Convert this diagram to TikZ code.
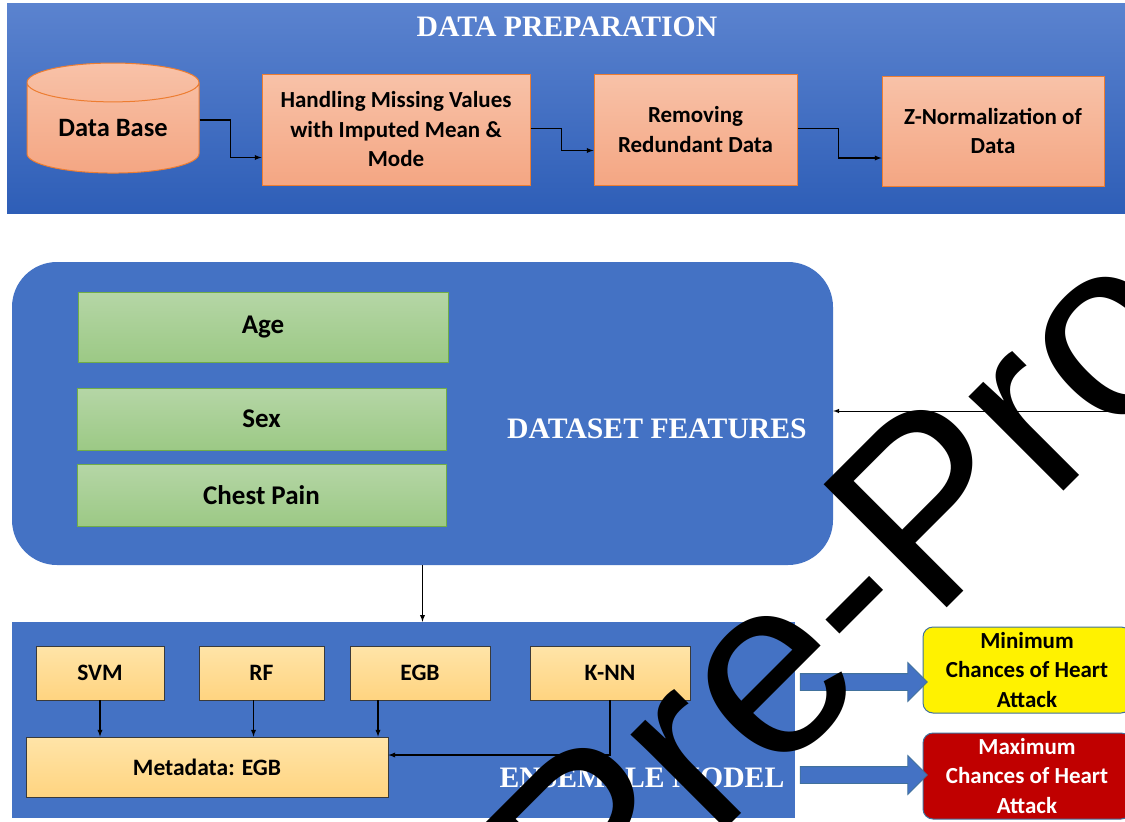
\documentclass[tikz,border=0pt]{standalone}
\usepackage{fontspec}
\usepackage{xcolor}
\usetikzlibrary{arrows}
\usetikzlibrary{positioning,shapes.geometric,shapes.arrows}

\newfontfamily\boxfont{Carlito}
\newfontfamily\headfont{Liberation Serif}
\newfontfamily\markfont{Liberation Sans}

\definecolor{panelblue}{HTML}{4472C4}
\definecolor{preptop}{HTML}{5B83CF}
\definecolor{prepbot}{HTML}{2E5EB7}
\definecolor{salmontop}{HTML}{F8C2A8}
\definecolor{salmonbot}{HTML}{F4A683}
\definecolor{salmonline}{HTML}{ED7D31}
\definecolor{greentop}{HTML}{B5D6A6}
\definecolor{greenbot}{HTML}{9CC985}
\definecolor{greenline}{HTML}{70AD47}
\definecolor{goldtop}{HTML}{FFE4A8}
\definecolor{goldbot}{HTML}{FFD480}
\definecolor{goldline}{HTML}{3A3A3A}
\definecolor{outline}{HTML}{41719C}
\definecolor{darkred}{HTML}{C00000}

\begin{document}
\begin{tikzpicture}[x=1pt,y=-1pt,>=latex,
    conn/.style={->,line width=1.3pt},
    headtext/.style={text=white,inner sep=0pt,font=\headfont\bfseries\fontsize{29.7}{33}\selectfont},
    salmonbox/.style={draw=salmonline,line width=1pt,top color=salmontop,bottom color=salmonbot,
      align=center,inner sep=0pt,font=\boxfont\bfseries\fontsize{23}{29.5}\selectfont},
    greenbox/.style={draw=greenline,line width=1pt,top color=greentop,bottom color=greenbot,
      minimum width=369pt,inner sep=0pt,font=\boxfont\bfseries\fontsize{27}{30}\selectfont},
    goldbox/.style={draw=goldline,line width=0.8pt,top color=goldtop,bottom color=goldbot,
      inner sep=0pt,font=\boxfont\bfseries\fontsize{23.5}{28}\selectfont},
    resultbox/.style={draw=outline,line width=1pt,rounded corners=10pt,minimum width=208pt,
      minimum height=86pt,align=center,inner sep=0pt,font=\boxfont\bfseries\fontsize{23}{29.5}\selectfont},
    blockarrow/.style={single arrow,draw=outline,fill=panelblue,line width=0.8pt,inner xsep=0pt,
      inner ysep=8pt,minimum width=38pt,single arrow head extend=11pt}]

    \useasboundingbox (0,0) rectangle (1125,822);
    \fill[white] (0,0) rectangle (1125,822);

    % data preparation
    \node[top color=preptop,bottom color=prepbot,minimum width=1118pt,minimum height=210pt,inner sep=0pt]
      (prep) at (566,108) {};
    \node[headtext] (preptitle) at (567,27) {DATA PREPARATION};
    \node[salmonbox,shape=cylinder,shape border rotate=90,aspect=0.355,minimum width=172pt,
      minimum height=110pt,font=\boxfont\bfseries\fontsize{26.5}{30}\selectfont] (db) at (113,128) {Data Base};
    \node[salmonbox,minimum width=268pt,minimum height=111pt] (hm) at (396,129.5)
      {Handling Missing Values\\with Imputed Mean \&\\Mode};
    \node[salmonbox,minimum width=203pt,minimum height=111pt] (rr) at (695.5,129.5)
      {Removing\\Redundant Data};
    \node[salmonbox,minimum width=222pt,minimum height=110pt] (zn) at (993,131)
      {Z-Normalization of\\Data};
    \draw[conn] ([yshift=8pt]db.east) -- ++(31,0) |- ([yshift=-28pt]hm.west);
    \draw[conn] ([yshift=1pt]hm.east) -- ++(31,0) |- ([yshift=-21pt]rr.west);
    \draw[conn] ([yshift=1pt]rr.east) -- ++(41,0) |- ([yshift=-27pt]zn.west);

    % dataset features
    \node[fill=panelblue,rounded corners=45pt,minimum width=821pt,minimum height=303pt,inner sep=0pt]
      (feat) at (422.5,413.5) {};
    \node[headtext] (feattitle) at (657,429) {DATASET FEATURES};
    \node[greenbox,minimum width=370pt,minimum height=70pt] (age) at (263,327) {Age};
    \node[greenbox,minimum height=62pt] (sex) at (261.5,419) {Sex};
    \node[greenbox,minimum height=62pt] (chest) at (261.5,495) {Chest Pain};
    \coordinate (fromright) at (1125,411);
    \draw[conn,line width=1pt] (fromright) -- (fromright -| feat.east);

    % ensemble model
    \node[fill=panelblue,minimum width=783pt,minimum height=196pt,inner sep=0pt] (ens) at (403.5,720) {};
    \node[headtext] (enstitle) at (642,778) {ENSEMBLE MODEL};
    \draw[conn] (feat.south) -- (feat.south |- ens.north);
    \node[goldbox,minimum width=128pt,minimum height=54pt] (svm) at (100,673) {SVM};
    \node[goldbox,minimum width=125pt,minimum height=54pt] (rf) at (261.5,673) {RF};
    \node[goldbox,minimum width=140pt,minimum height=54pt] (egb) at (420,673) {EGB};
    \node[goldbox,minimum width=160pt,minimum height=54pt] (knn) at (610,673) {K-NN};
    \node[goldbox,minimum width=362pt,minimum height=60pt] (meta) at (207,767) {Metadata: EGB};
    \draw[conn] (svm.south) -- (svm.south |- meta.north);
    \draw[conn] ([xshift=-8pt]rf.south) -- ([xshift=-8pt]rf.south |- meta.north);
    \draw[conn] ([xshift=-42pt]egb.south) -- ([xshift=-42pt]egb.south |- meta.north);
    \draw[conn] (knn.south) |- ([yshift=12pt]meta.east);

    % outcomes
    \node[resultbox,fill=yellow] (mins) at (1027,670) {Minimum\\Chances of Heart\\Attack};
    \node[resultbox,fill=darkred,text=white] (maxs) at (1027,776) {Maximum\\Chances of Heart\\Attack};
    \node[blockarrow,minimum height=127pt] (tomin) at (859.5,682) {};
    \node[blockarrow,minimum height=127pt] (tomax) at (859.5,775) {};

    \node[anchor=base west,rotate=45,inner sep=0pt,font=\markfont\fontsize{253}{258}\selectfont]
      (mark) at (932.6,622.4) {\llap{Journal Pre-}Proof};
\end{tikzpicture}
\end{document}
